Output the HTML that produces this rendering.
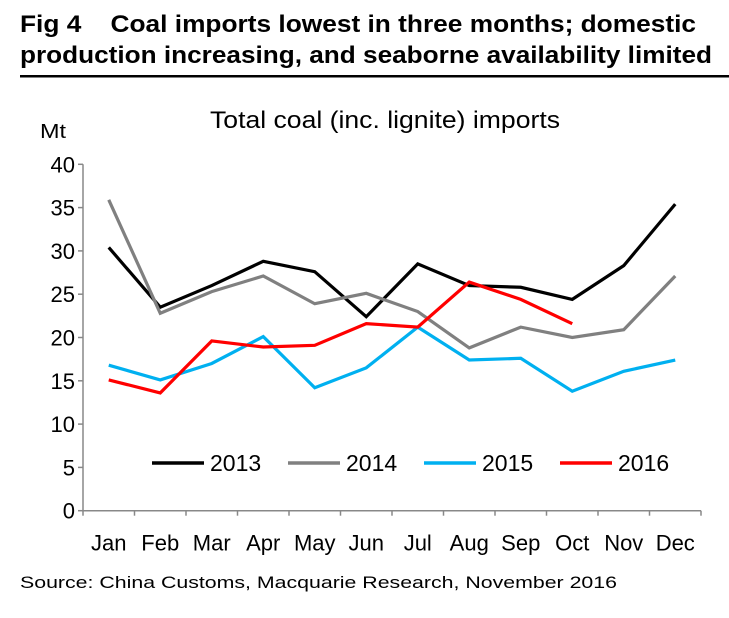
<!DOCTYPE html>
<html><head><meta charset="utf-8"><style>
body{margin:0;background:#fff;width:729px;height:613px;overflow:hidden;font-family:"Liberation Sans",Arial,sans-serif}
</style></head><body>
<svg id="chart" width="729" height="613" xmlns="http://www.w3.org/2000/svg" font-family="Liberation Sans, Arial, sans-serif">
<text x="20" y="32" font-size="24" font-weight="bold" textLength="676" lengthAdjust="spacingAndGlyphs">Fig 4&#160;&#160;&#160; Coal imports lowest in three months; domestic</text>
<text x="20" y="63" font-size="24" font-weight="bold" textLength="692" lengthAdjust="spacingAndGlyphs">production increasing, and seaborne availability limited</text>
<rect x="20" y="75" width="709" height="2.5" fill="#000"/>
<text x="210" y="128" font-size="24" textLength="350" lengthAdjust="spacingAndGlyphs">Total coal (inc. lignite) imports</text>
<text x="40" y="138" font-size="20" textLength="26" lengthAdjust="spacingAndGlyphs">Mt</text>
<g id="axes"></g>
<g id="series"></g>
<g id="legend"></g>
<text x="20" y="588" font-size="17" textLength="597" lengthAdjust="spacingAndGlyphs">Source: China Customs, Macquarie Research, November 2016</text>
</svg>
<script>
const months=["Jan","Feb","Mar","Apr","May","Jun","Jul","Aug","Sep","Oct","Nov","Dec"];
const yTicks=[0,5,10,15,20,25,30,35,40];
const s2013=[30.4,23.5,26.0,28.8,27.6,22.4,28.5,26.0,25.8,24.4,28.3,35.4];
const s2014=[35.9,22.8,25.3,27.1,23.9,25.1,23.0,18.8,21.2,20.0,20.9,27.1];
const s2015=[16.8,15.1,17.0,20.1,14.2,16.5,21.2,17.4,17.6,13.8,16.1,17.4];
const s2016=[15.1,13.6,19.6,18.9,19.1,21.6,21.2,26.4,24.4,21.6];
const seriesNames=["2013","2014","2015","2016"];
const NS="http://www.w3.org/2000/svg";
const x0=83,x1=701,y0=510.7,y40=164.3;
const bw=(x1-x0)/months.length;
const xS=i=>x0+bw*(i+0.5);
const yS=v=>y0-(v/40)*(y0-y40);
function mk(tag,attrs,parent,txt){const e=document.createElementNS(NS,tag);for(const k in attrs)e.setAttribute(k,attrs[k]);if(txt!==undefined)e.textContent=txt;parent.appendChild(e);return e;}
const axes=document.getElementById('axes');
let e=mk('line',{x1:x0,y1:y40,x2:x0,y2:y0,stroke:'#888','stroke-width':1.5},axes);


e=mk('line',{x1:x0,y1:y0,x2:x1,y2:y0,stroke:'#888','stroke-width':1.5},axes);


yTicks.forEach(t=>{
 const y=yS(t);
 mk('line',{x1:x0-5,y1:y,x2:x0,y2:y,stroke:'#888','stroke-width':1.5},axes);
 const l=mk('text',{x:x0-8,y:y+8,'font-size':22,'text-anchor':'end'},axes,String(t));
 
 
});
for(let i=0;i<=months.length;i++){mk('line',{x1:x0+bw*i,y1:y0,x2:x0+bw*i,y2:y0+5,stroke:'#888','stroke-width':1.5},axes);}
months.forEach((m,i)=>{
 const l=mk('text',{x:xS(i),y:y0+40,'font-size':22,'text-anchor':'middle'},axes,m);
 
 
});
const data=[s2013,s2014,s2015,s2016];
const colors=["#000000","#808080","#00B0F0","#FF0000"];
const sg=document.getElementById('series');
data.forEach((d,k)=>{
 const p=mk('polyline',{points:d.map((v,i)=>xS(i)+','+yS(v)).join(' '),fill:'none',stroke:colors[k],'stroke-width':3.2,'stroke-linejoin':'miter'},sg);
 
 
});
const lg=document.getElementById('legend');
const lx=[152,288,424,560];
seriesNames.forEach((n,k)=>{
 const g=mk('g',{},lg);
 
 
 mk('line',{x1:lx[k],y1:463,x2:lx[k]+52,y2:463,stroke:colors[k],'stroke-width':3.5},g);
 mk('text',{x:lx[k]+58,y:471,'font-size':23},g,n);
});
</script>
</body></html>
